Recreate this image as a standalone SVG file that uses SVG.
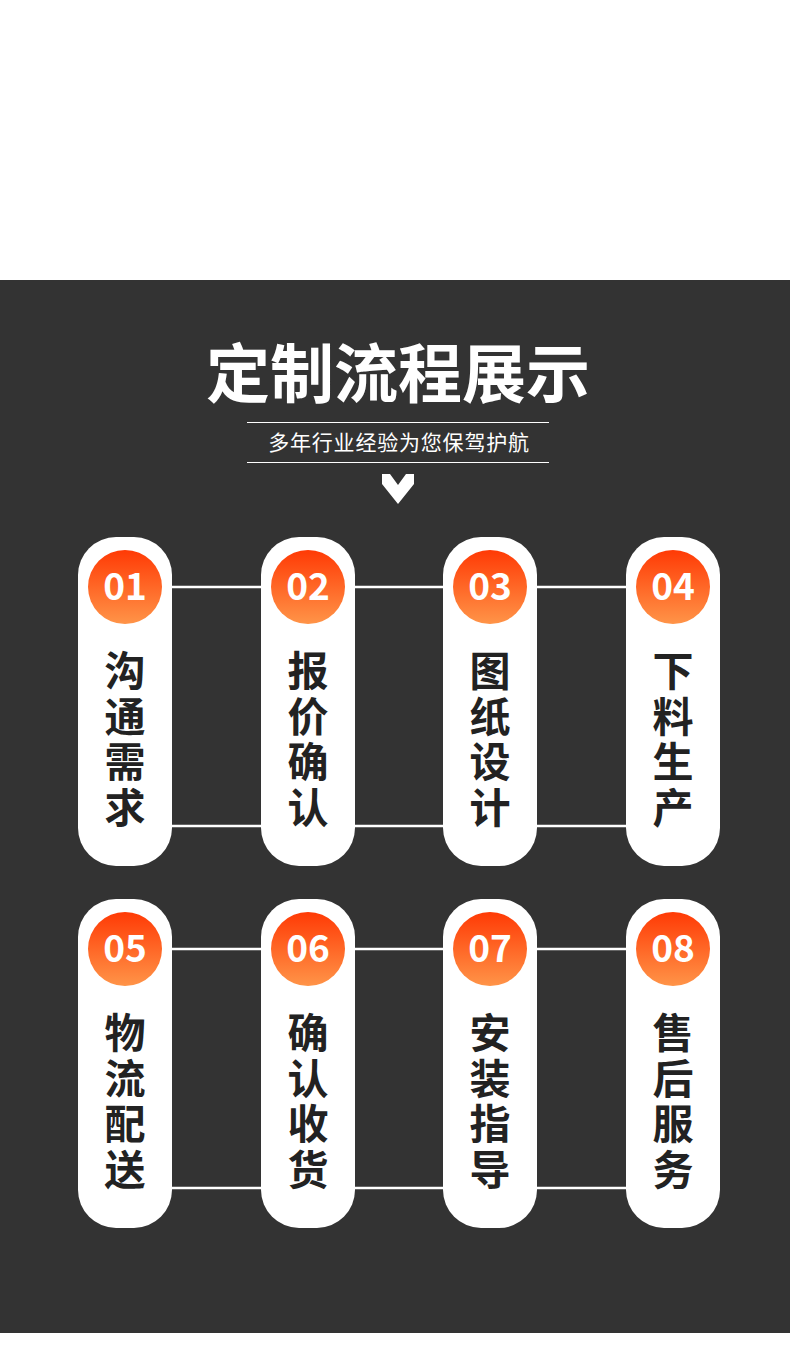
<svg xmlns="http://www.w3.org/2000/svg" width="790" height="1348" viewBox="0 0 790 1348">
<defs>
<linearGradient id="og" x1="0" y1="0" x2="0" y2="1">
<stop offset="0" stop-color="#ff3a05"/>
<stop offset="1" stop-color="#ff9448"/>
</linearGradient>
<style>
.card{fill:#ffffff}
.num{fill:url(#og)}
.nt{font-family:"Noto Sans CJK SC","Noto Sans",sans-serif;font-weight:700;font-size:37px;fill:#ffffff;text-anchor:middle}
.ct{font-family:"Noto Sans CJK SC",sans-serif;font-weight:700;font-size:41px;fill:#222222;writing-mode:vertical-rl;letter-spacing:4.6px}
.ln{stroke:#ffffff;stroke-width:2.5;fill:none}
</style>
</defs>
<rect x="0" y="0" width="790" height="1348" fill="#ffffff"/>
<rect x="0" y="280" width="790" height="1053" fill="#333333"/>
<g id="title">
<text x="398" y="397" font-family="'Noto Sans CJK SC',sans-serif" font-weight="700" font-size="64" fill="#ffffff" text-anchor="middle">定制流程展示</text>
<line x1="247" y1="422.5" x2="549" y2="422.5" stroke="#ffffff" stroke-width="1.2"/>
<line x1="247" y1="462.5" x2="549" y2="462.5" stroke="#ffffff" stroke-width="1.2"/>
<text x="399" y="450" font-family="'Noto Sans CJK SC',sans-serif" font-size="21" letter-spacing="0.8" fill="#ffffff" text-anchor="middle">多年行业经验为您保驾护航</text>
<polygon points="382,474 390,474 398,485 406,474 414,474 414,484 398,504 382,484" fill="#ffffff"/>
</g>
<g id="connectors">
<line class="ln" x1="170" y1="587" x2="263" y2="587"/>
<line class="ln" x1="353" y1="587" x2="445" y2="587"/>
<line class="ln" x1="535" y1="587" x2="628" y2="587"/>
<line class="ln" x1="170" y1="826" x2="263" y2="826"/>
<line class="ln" x1="353" y1="826" x2="445" y2="826"/>
<line class="ln" x1="535" y1="826" x2="628" y2="826"/>
<line class="ln" x1="170" y1="949" x2="263" y2="949"/>
<line class="ln" x1="353" y1="949" x2="445" y2="949"/>
<line class="ln" x1="535" y1="949" x2="628" y2="949"/>
<line class="ln" x1="170" y1="1188" x2="263" y2="1188"/>
<line class="ln" x1="353" y1="1188" x2="445" y2="1188"/>
<line class="ln" x1="535" y1="1188" x2="628" y2="1188"/>
</g>
<g id="step01">
<rect class="card" x="78" y="537" width="94" height="329" rx="38"/>
<circle class="num" cx="125" cy="587" r="37"/>
<text class="nt" x="125" y="600">01</text>
<text class="ct" x="125" y="650">沟通需求</text>
</g>
<g id="step02">
<rect class="card" x="261" y="537" width="94" height="329" rx="38"/>
<circle class="num" cx="308" cy="587" r="37"/>
<text class="nt" x="308" y="600">02</text>
<text class="ct" x="308" y="650">报价确认</text>
</g>
<g id="step03">
<rect class="card" x="443" y="537" width="94" height="329" rx="38"/>
<circle class="num" cx="490" cy="587" r="37"/>
<text class="nt" x="490" y="600">03</text>
<text class="ct" x="490" y="650">图纸设计</text>
</g>
<g id="step04">
<rect class="card" x="626" y="537" width="94" height="329" rx="38"/>
<circle class="num" cx="673" cy="587" r="37"/>
<text class="nt" x="673" y="600">04</text>
<text class="ct" x="673" y="650">下料生产</text>
</g>
<g id="step05">
<rect class="card" x="78" y="899" width="94" height="329" rx="38"/>
<circle class="num" cx="125" cy="949" r="37"/>
<text class="nt" x="125" y="962">05</text>
<text class="ct" x="125" y="1012">物流配送</text>
</g>
<g id="step06">
<rect class="card" x="261" y="899" width="94" height="329" rx="38"/>
<circle class="num" cx="308" cy="949" r="37"/>
<text class="nt" x="308" y="962">06</text>
<text class="ct" x="308" y="1012">确认收货</text>
</g>
<g id="step07">
<rect class="card" x="443" y="899" width="94" height="329" rx="38"/>
<circle class="num" cx="490" cy="949" r="37"/>
<text class="nt" x="490" y="962">07</text>
<text class="ct" x="490" y="1012">安装指导</text>
</g>
<g id="step08">
<rect class="card" x="626" y="899" width="94" height="329" rx="38"/>
<circle class="num" cx="673" cy="949" r="37"/>
<text class="nt" x="673" y="962">08</text>
<text class="ct" x="673" y="1012">售后服务</text>
</g>
</svg>
